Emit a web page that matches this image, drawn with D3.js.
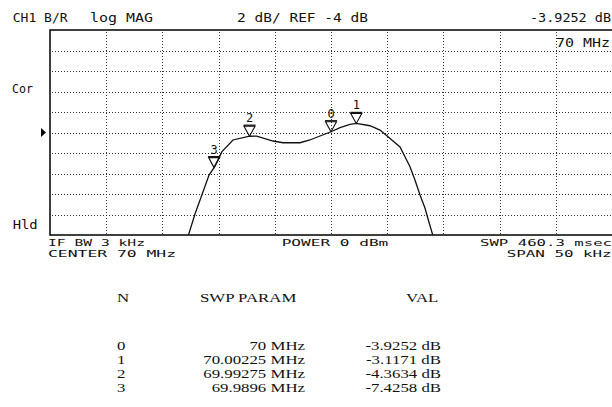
<!DOCTYPE html>
<html><head><meta charset="utf-8">
<script src="https://cdn.jsdelivr.net/npm/d3@7"></script>
<style>html,body{margin:0;padding:0;background:#fff}svg{display:block}</style>
</head><body>
<script>
// Measured trace: frequency (MHz) and magnitude (dB)
const traceFreq = [69.98732, 69.9879, 69.98915, 69.9896, 69.9903, 69.99128, 69.99275, 69.99339,
  69.99484, 69.99573, 69.99724, 69.99813, 69.99902, 70.0, 70.0008, 70.00169, 70.00225, 70.00347,
  70.00436, 70.0051, 70.00614, 70.00703, 70.00747, 70.00792, 70.00836, 70.00866, 70.00905];
const traceMag = [-14.0, -11.95, -8.15, -7.4258, -5.87, -4.73, -4.3634, -4.36,
  -4.83, -5.0, -5.0, -4.73, -4.34, -3.9252, -3.53, -3.20, -3.1171, -3.34,
  -3.76, -4.44, -5.41, -7.34, -8.63, -10.10, -11.37, -12.54, -14.0];

// Markers
const markerIds = ["0", "1", "2", "3"];
const markerFreq = [70, 70.00225, 69.99275, 69.9896];
const markerMag = [-3.9252, -3.1171, -4.3634, -7.4258];
const markerFreqText = ["70 MHz", "70.00225 MHz", "69.99275 MHz", "69.9896 MHz"];
const markerValText = ["-3.9252 dB", "-3.1171 dB", "-4.3634 dB", "-7.4258 dB"];

// Instrument settings
const centerMHz = 70, spanMHz = 0.05, refDb = -4, dbPerDiv = 2, divisions = 10;

const W = 612, H = 407;
const plot = {left: 50, right: 612, top: 30, bottom: 235};

const svg = d3.select("body").append("svg").attr("width", W).attr("height", H);

const x = d3.scaleLinear()
  .domain([centerMHz - spanMHz / 2, centerMHz + spanMHz / 2])
  .range([plot.left, plot.right]);
const y = d3.scaleLinear()
  .domain([refDb - dbPerDiv * divisions / 2, refDb + dbPerDiv * divisions / 2])
  .range([plot.bottom, plot.top]);

const mono = "'DejaVu Sans Mono', monospace";
function label(px, py, str, len, opts = {}) {
  const t = svg.append("text")
    .attr("x", px).attr("y", py)
    .attr("font-family", opts.family || mono)
    .attr("font-size", opts.size || 12.5)
    .attr("fill", "#111")
    .attr("text-anchor", opts.anchor || "start")
    .text(str);
  if (len) t.attr("textLength", len).attr("lengthAdjust", opts.adjust || "spacingAndGlyphs");
  return t;
}

// Grid (dotted)
const grid = svg.append("g").attr("stroke", "#333").attr("stroke-width", 1)
  .attr("stroke-dasharray", "1,2");
x.ticks(divisions).slice(1, -1).forEach(v => {
  grid.append("line").attr("x1", Math.round(x(v)) + 0.5).attr("x2", Math.round(x(v)) + 0.5)
    .attr("y1", plot.top + 2).attr("y2", plot.bottom);
});
y.ticks(divisions).slice(1, -1).forEach(v => {
  grid.append("line").attr("y1", Math.round(y(v)) + 0.5).attr("y2", Math.round(y(v)) + 0.5)
    .attr("x1", plot.left + 2).attr("x2", plot.right);
});

// Frame
const frame = svg.append("g").attr("stroke", "#000").attr("stroke-width", 1.5).attr("fill", "none");
frame.append("path").attr("d",
  `M${plot.right},${plot.top}H${plot.left}V${plot.bottom}H${plot.right}`);

// Trace
svg.append("clipPath").attr("id", "clip").append("rect")
  .attr("x", plot.left).attr("y", plot.top)
  .attr("width", plot.right - plot.left).attr("height", plot.bottom - plot.top);
const line = d3.line().x(d => x(d[0])).y(d => y(d[1]));
svg.append("path")
  .datum(d3.zip(traceFreq, traceMag))
  .attr("clip-path", "url(#clip)")
  .attr("d", line)
  .attr("fill", "none").attr("stroke", "#111").attr("stroke-width", 1.3);

// Markers: open inverted triangles with a bar on top and their numbers above
markerIds.forEach((id, i) => {
  const mx = x(markerFreq[i]), my = y(markerMag[i]);
  svg.append("path")
    .attr("d", `M${mx},${my}L${mx - 5.5},${my - 10}H${mx + 5.5}Z`)
    .attr("fill", "none").attr("stroke", "#111").attr("stroke-width", 1.1);
  svg.append("line")
    .attr("x1", mx - 6).attr("x2", mx + 6).attr("y1", my - 11).attr("y2", my - 11)
    .attr("stroke", "#111").attr("stroke-width", 1.3);
  label(mx, my - 14, id, null, {anchor: "middle", size: 12});
});

// Reference position arrow
const ry = y(refDb);
svg.append("path").attr("d", `M41,${ry - 4.5}L46,${ry}L41,${ry + 4.5}Z`).attr("fill", "#000");

// Header
label(12.7, 22, "CH1 B/R", 55);
label(90, 22, "log MAG", 63);
label(237, 22, `${dbPerDiv} dB/ REF ${refDb} dB`, 131);
label(611, 22, markerValText[0], 81, {anchor: "end"});
label(556, 47, markerFreqText[0], 54);
label(12, 93, "Cor", 21);
label(12.7, 229, "Hld", 25);

// Footer settings
const small = {size: 9};
label(48, 246, "IF BW 3 kHz", 97, small);
label(48, 256.5, `CENTER  ${centerMHz} MHz`, 128, small);
label(281.7, 246, "POWER  0 dBm", 106.6, small);
label(480, 246, "SWP  460.3 msec", 132, small);
label(506.7, 256.5, `SPAN  ${spanMHz * 1000} kHz`, 105, small);

// Marker table: a wide-set serif face, stretched horizontally
const tab = {family: "'Liberation Serif', serif", size: 12};
const stretch = 1.4;
function tabText(px, py, str, anchor) {
  const t = label(px, py, str, null, Object.assign({anchor}, tab));
  const w = t.node().getComputedTextLength();
  t.attr("textLength", w * stretch).attr("lengthAdjust", "spacingAndGlyphs");
  return t;
}
tabText(117, 302, "N", "start");
tabText(200, 302, "SWP PARAM", "start");
tabText(406, 302, "VAL", "start");
const rowY = [349.7, 363.7, 377.7, 391.7];
markerIds.forEach((id, i) => {
  tabText(117, rowY[i], id, "start");
  tabText(305, rowY[i], markerFreqText[i], "end");
  tabText(441, rowY[i], markerValText[i], "end");
});
</script>
</body></html>
